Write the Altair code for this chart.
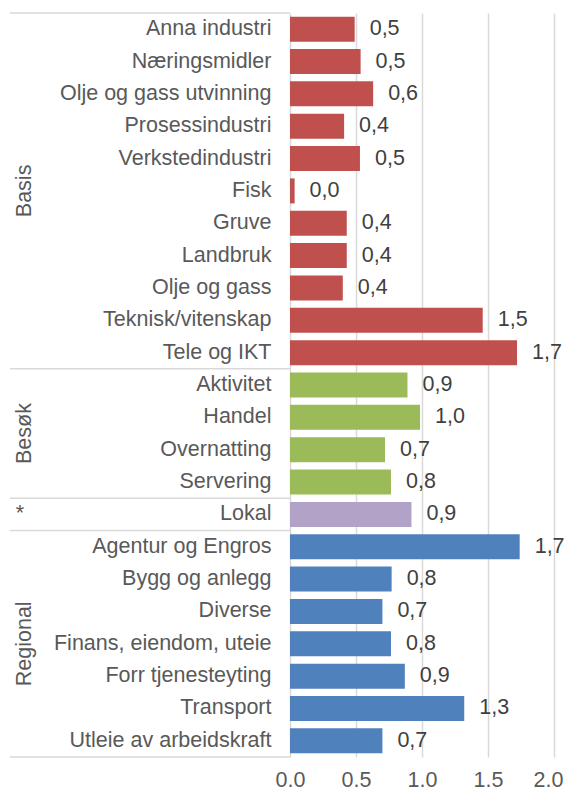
import altair as alt
import pandas as pd

groups = ["Basis", "Besøk", "*", "Regional"]
group_colors = ["#C0504D", "#9BBB59", "#B3A2C7", "#4F81BD"]

basis_names = ["Anna industri", "Næringsmidler", "Olje og gass utvinning", "Prosessindustri",
               "Verkstedindustri", "Fisk", "Gruve", "Landbruk", "Olje og gass",
               "Teknisk/vitenskap", "Tele og IKT"]
basis_values = [0.49, 0.535, 0.63, 0.41, 0.53, 0.035, 0.43, 0.43, 0.40, 1.46, 1.72]

besok_names = ["Aktivitet", "Handel", "Overnatting", "Servering"]
besok_values = [0.89, 0.985, 0.72, 0.765]

lokal_names = ["Lokal"]
lokal_values = [0.92]

regional_names = ["Agentur og Engros", "Bygg og anlegg", "Diverse", "Finans, eiendom, uteie",
                  "Forr tjenesteyting", "Transport", "Utleie av arbeidskraft"]
regional_values = [1.74, 0.77, 0.70, 0.765, 0.87, 1.32, 0.70]

x_ticks = [0, 0.5, 1.0, 1.5, 2.0]

group_members = [(basis_names, basis_values), (besok_names, besok_values),
                 (lokal_names, lokal_values), (regional_names, regional_values)]

rows = []
for g, (names, vals) in zip(groups, group_members):
    for n, v in zip(names, vals):
        rows.append({"group": g, "name": n, "value": v,
                     "label": f"{v:.1f}".replace(".", ",")})
df = pd.DataFrame(rows)
order = list(df["name"])

# group boundaries and label midpoints (in row units)
bounds = [0]
mids = []
for names, _ in group_members:
    mids.append(bounds[-1] + len(names) / 2)
    bounds.append(bounds[-1] + len(names))
sep_df = pd.DataFrame({"pos": bounds})
glab_df = pd.DataFrame({"group": groups, "mid": mids})
n_rows = bounds[-1]

W, H = 264, 744
FONT = "Liberation Sans"
FS = 21.5
PAD_L = 282
PAD_R = 556 - PAD_L - W

yband = alt.Y("name:N", sort=order,
              scale=alt.Scale(paddingInner=0, paddingOuter=0),
              axis=alt.Axis(title=None, domain=False, ticks=False, labelPadding=19,
                            labelFontSize=FS, labelColor="#595959", labelLimit=300,
                            labelFont=FONT))
xq = alt.X("value:Q", scale=alt.Scale(domain=[0, 2], nice=False),
           axis=alt.Axis(title=None, values=x_ticks, format=".1f", domain=False,
                         ticks=False, grid=True, gridColor="#d9d9d9", gridWidth=1.5,
                         labelFontSize=FS, labelColor="#595959", labelPadding=12,
                         labelFlush=False, labelOverlap=False, labelFont=FONT,
                         labelOffset={"condition": {"test": "datum.value >= 2", "value": -6},
                                      "value": 0}))

bars = alt.Chart(df).mark_bar(size=25).encode(
    x=xq, y=yband,
    color=alt.Color("group:N", scale=alt.Scale(domain=groups, range=group_colors), legend=None),
)
vals = alt.Chart(df).mark_text(align="left", baseline="middle", dx=15, fontSize=FS,
                               color="#404040", font=FONT).encode(
    x="value:Q", y=alt.Y("name:N", sort=order), text="label:N")

main = alt.layer(bars, vals)

ylin = alt.Scale(domain=[0, n_rows], nice=False, zero=False, reverse=True)

seps = alt.Chart(sep_df).mark_rule(color="#d9d9d9", strokeWidth=1.5).encode(
    y=alt.Y("pos:Q", scale=ylin, axis=None),
    x=alt.value(-280), x2=alt.value(0))

glab_rot = alt.Chart(glab_df).transform_filter(alt.datum.group != "*").mark_text(
    angle=270, align="center", baseline="middle", fontSize=FS, color="#595959", font=FONT
).encode(y=alt.Y("mid:Q", scale=ylin, axis=None), x=alt.value(-265), text="group:N")

glab_star = alt.Chart(glab_df).transform_filter(alt.datum.group == "*").mark_text(
    align="center", baseline="middle", fontSize=FS, color="#595959", font=FONT
).encode(y=alt.Y("mid:Q", scale=ylin, axis=None), x=alt.value(-270), text="group:N")

chart = alt.layer(main, seps, glab_rot, glab_star).resolve_scale(
    y="independent"
).properties(
    width=W, height=H,
    autosize=alt.AutoSizeParams(type="none"),
    padding={"left": PAD_L, "top": 5, "right": PAD_R, "bottom": 40},
).configure(font=FONT).configure_view(stroke=None)

chart.save("out.html", embed_options={"renderer": "svg", "actions": False})
